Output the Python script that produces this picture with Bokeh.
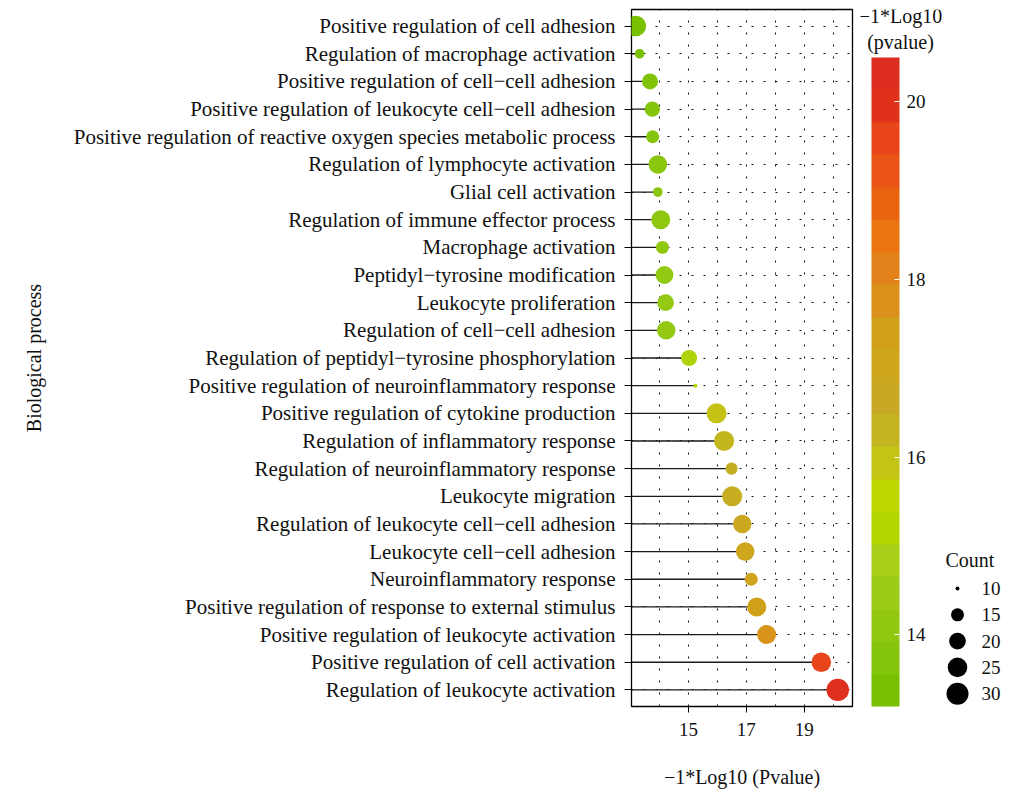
import numpy as np
from bokeh.plotting import figure
from bokeh.models import (ColumnDataSource, FactorRange, Range1d, LinearColorMapper,
                          ColorBar, FixedTicker, Label)
from bokeh.layouts import row
from bokeh.core.properties import value
from bokeh.embed import file_html
from bokeh.resources import INLINE

# ---------------- data (top to bottom as shown) ----------------
processes = [
    "Positive regulation of cell adhesion",
    "Regulation of macrophage activation",
    "Positive regulation of cell\u2212cell adhesion",
    "Positive regulation of leukocyte cell\u2212cell adhesion",
    "Positive regulation of reactive oxygen species metabolic process",
    "Regulation of lymphocyte activation",
    "Glial cell activation",
    "Regulation of immune effector process",
    "Macrophage activation",
    "Peptidyl\u2212tyrosine modification",
    "Leukocyte proliferation",
    "Regulation of cell\u2212cell adhesion",
    "Regulation of peptidyl\u2212tyrosine phosphorylation",
    "Positive regulation of neuroinflammatory response",
    "Positive regulation of cytokine production",
    "Regulation of inflammatory response",
    "Regulation of neuroinflammatory response",
    "Leukocyte migration",
    "Regulation of leukocyte cell\u2212cell adhesion",
    "Leukocyte cell\u2212cell adhesion",
    "Neuroinflammatory response",
    "Positive regulation of response to external stimulus",
    "Positive regulation of leukocyte activation",
    "Positive regulation of cell activation",
    "Regulation of leukocyte activation",
]
neg_log10_p = [13.18, 13.31, 13.67, 13.75, 13.76, 13.94, 13.94, 14.04, 14.10, 14.17,
               14.21, 14.23, 15.02, 15.24, 15.97, 16.23, 16.49, 16.51, 16.86, 16.96,
               17.17, 17.36, 17.70, 19.59, 20.16]
gene_count = [27, 12, 19, 18, 15, 23, 12, 24, 15, 22,
              20, 23, 19, 10, 26, 26, 14, 26, 23, 23,
              15, 24, 24, 25, 31]

x_ticks = [15, 17, 19]
grid_ticks = [14, 15, 16, 17, 18, 19, 20]
colorbar_ticks = [14, 16, 18, 20]
legend_counts = [10, 15, 20, 25, 30]
color_low, color_high = 13.19, 20.5

x_title = "\u22121*Log10 (Pvalue)"
y_title = "Biological process"
color_title = ["\u22121*Log10", "(pvalue)"]
size_title = "Count"

# ---------------- styles ----------------
FONT = "Liberation Serif"
band_colors = [  # bottom (low) to top (high)
    "#78C000", "#84C40C", "#90C810", "#9CCC18", "#A8D018",
    "#B4D400", "#BED800", "#C4C414", "#C4B420", "#C8A824",
    "#CEA61C", "#D0A018", "#DA901A", "#E3821A", "#EA7410",
    "#EA6410", "#EA5414", "#E8461A", "#E0321A", "#DE2E22",
]


def hex_to_rgb(h):
    return np.array([int(h[i:i + 2], 16) for i in (1, 3, 5)], dtype=float)


band_rgb = np.array([hex_to_rgb(c) for c in band_colors])
fine_palette = []
for k in range(256):
    t = (k + 0.5) / 256 * len(band_colors) - 0.5
    t = min(max(t, 0), len(band_colors) - 1)
    i0 = int(np.floor(t))
    i1 = min(i0 + 1, len(band_colors) - 1)
    f = t - i0
    c = band_rgb[i0] * (1 - f) + band_rgb[i1] * f
    fine_palette.append("#%02x%02x%02x" % tuple(int(round(v)) for v in c))

point_mapper = LinearColorMapper(palette=fine_palette, low=color_low, high=color_high)
bar_mapper = LinearColorMapper(palette=band_colors, low=color_low, high=color_high)


def point_diameter(c):
    return 4 + 4.025 * np.sqrt(max(c - 10, 0))


src = ColumnDataSource(dict(
    process=processes,
    value=neg_log10_p,
    count=gene_count,
    size=[point_diameter(c) for c in gene_count],
    base=[0] * len(processes),
))

H = 793
X0, X1 = 13.03, 20.67
FRAME_L, FRAME_R, FRAME_T, FRAME_B = 631, 852, 9, 706

# ---------------- main panel ----------------
p = figure(width=860, height=H,
           y_range=FactorRange(factors=processes[::-1], range_padding=0.008),
           x_range=Range1d(X0, X1),
           output_backend="svg", toolbar_location=None,
           min_border_left=FRAME_L, min_border_right=8, min_border_top=FRAME_T,
           min_border_bottom=H - FRAME_B)
p.background_fill_color = "white"
p.border_fill_color = "white"
p.outline_line_color = "black"
p.outline_line_width = 1.3

p.xgrid.ticker = FixedTicker(ticks=grid_ticks)
for g in (p.xgrid, p.ygrid):
    g.grid_line_color = "#111111"
    g.grid_line_dash = "2 10"
    g.grid_line_width = 1

p.segment(x0="base", y0="process", x1="value", y1="process", source=src,
          line_color="#1a1a1a", line_width=1.3)
p.scatter(x="value", y="process", size="size", source=src,
          fill_color={"field": "value", "transform": point_mapper}, line_color=None)

ax = p.xaxis[0]
ax.ticker = FixedTicker(ticks=x_ticks)
ax.axis_line_color = None
ax.major_tick_out = 6
ax.major_tick_in = 0
ax.major_tick_line_color = "black"
ax.minor_tick_line_color = None
ax.major_label_text_font = FONT
ax.major_label_text_font_size = "19px"
ax.major_label_text_color = "#111111"
ax.major_label_standoff = 10
ax.axis_label = x_title
ax.axis_label_text_font = FONT
ax.axis_label_text_font_size = "20px"
ax.axis_label_text_font_style = "normal"
ax.axis_label_text_color = "#111111"
ax.axis_label_standoff = 27

ay = p.yaxis[0]
ay.axis_line_color = None
ay.major_tick_out = 7
ay.major_tick_in = 0
ay.major_tick_line_color = "black"
ay.major_label_text_font = FONT
ay.major_label_text_font_size = "21px"
ay.major_label_text_color = "#111111"
ay.major_label_standoff = 9
ay.axis_label = y_title
ay.axis_label_text_font = FONT
ay.axis_label_text_font_size = "20px"
ay.axis_label_text_font_style = "normal"
ay.axis_label_text_color = "#111111"
ay.axis_label_standoff = 26

# ---------------- legend panel (data units = page pixels) ----------------
p2 = figure(width=155, height=H, x_range=Range1d(860, 1015), y_range=Range1d(FRAME_B, FRAME_T),
            x_axis_type=None, y_axis_type=None,
            output_backend="svg", toolbar_location=None, min_border=0)
p2.outline_line_color = None
p2.grid.visible = False

cb = ColorBar(color_mapper=bar_mapper, ticker=FixedTicker(ticks=colorbar_ticks),
              location=(11, 0), width=28, height=649, padding=0, margin=0,
              title=None, label_standoff=7,
              major_label_text_font=FONT, major_label_text_font_size="19px",
              major_label_text_color="#111111",
              major_tick_line_color="white", major_tick_in=5, major_tick_out=0,
              minor_tick_line_color=None, bar_line_color=None,
              border_line_color=None, background_fill_color=None)
p2.add_layout(cb, "center")

for txt, yy in zip(color_title, [15, 41]):
    p2.add_layout(Label(x=900, y=yy, text=txt, text_align="center",
                        text_baseline="middle", text_font=FONT, text_font_size="20px",
                        text_color="#111111"))
p2.text(x=[945], y=[559], text=[size_title], text_align="left",
        text_baseline="middle", text_font=value(FONT), text_font_size="20px",
        text_color="#111111")
leg_y = [588 + 26.3 * i for i in range(len(legend_counts))]
p2.scatter(x=[957] * len(legend_counts), y=leg_y,
           size=[point_diameter(c) for c in legend_counts],
           fill_color="black", line_color=None)
p2.text(x=[981] * len(legend_counts), y=leg_y, text=[str(c) for c in legend_counts],
        text_align="left", text_baseline="middle", text_font=value(FONT),
        text_font_size="19px", text_color="#111111")

layout = row(p, p2, spacing=0)
open("out.html", "w").write(file_html(layout, INLINE))
